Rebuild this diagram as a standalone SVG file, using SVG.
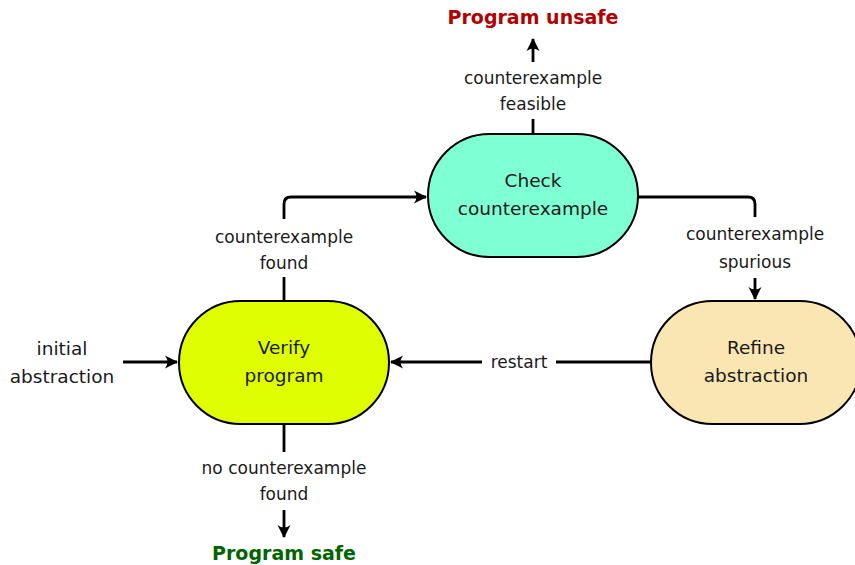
<svg xmlns="http://www.w3.org/2000/svg" width="855" height="565" viewBox="0 0 855 565">
  <defs>
    <marker id="arr" viewBox="-13 -7 15 14" refX="0" refY="0" markerWidth="15" markerHeight="14" markerUnits="userSpaceOnUse" orient="auto">
      <path d="M1,0 L-12,-6.5 Q-7,0 -12,6.5 Z" fill="#000"/>
    </marker>
  </defs>
  <style>
    .node { stroke: #000; stroke-width: 2; }
    .edge { fill: none; stroke: #000; stroke-width: 2.8; }
    .lbl { font-family: "DejaVu Sans", "Open Sans", sans-serif; font-size: 17px; fill: #1a1a1a; text-anchor: middle; }
    .ntxt { font-family: "DejaVu Sans", "Open Sans", sans-serif; font-size: 18.5px; fill: #1a1a1a; text-anchor: middle; }
    .out { font-family: "DejaVu Sans", "Open Sans", sans-serif; font-size: 19px; font-weight: bold; text-anchor: middle; }
  </style>

  <!-- connectors -->
  <g id="edges">
    <!-- verify -> check -->
    <path class="edge" d="M284,301 L284,277"/>
    <path class="edge" d="M284,219 L284,204 Q284,197 291,197 L426,197" marker-end="url(#arr)"/>
    <!-- check -> refine -->
    <path class="edge" d="M638,197 L748,197 Q755,197 755,204 L755,217"/>
    <path class="edge" d="M755,278 L755,299" marker-end="url(#arr)"/>
    <!-- check -> unsafe -->
    <path class="edge" d="M533,134 L533,119"/>
    <path class="edge" d="M533,62 L533,39" marker-end="url(#arr)"/>
    <!-- verify -> safe -->
    <path class="edge" d="M284,424 L284,452"/>
    <path class="edge" d="M284,510 L284,537" marker-end="url(#arr)"/>
    <!-- refine -> verify -->
    <path class="edge" d="M651,362 L556,362"/>
    <path class="edge" d="M482,362 L391,362" marker-end="url(#arr)"/>
    <!-- initial -->
    <path class="edge" d="M123,362 L177,362" marker-end="url(#arr)"/>
  </g>

  <!-- edge labels -->
  <g id="labels">
    <text class="lbl" x="284" y="243">counterexample</text>
    <text class="lbl" x="284" y="269">found</text>
    <text class="lbl" x="755" y="240">counterexample</text>
    <text class="lbl" x="755" y="268">spurious</text>
    <text class="lbl" x="533" y="84">counterexample</text>
    <text class="lbl" x="533" y="110">feasible</text>
    <text class="lbl" x="284" y="474">no counterexample</text>
    <text class="lbl" x="284" y="500">found</text>
    <text class="lbl" x="519" y="368">restart</text>
  </g>

  <g id="initial">
    <text class="ntxt" x="62" y="355">initial</text>
    <text class="ntxt" x="62" y="383">abstraction</text>
  </g>

  <g id="check">
    <rect class="node" x="428" y="134" width="210" height="123" rx="61.5" fill="#7fffd4"/>
    <text class="ntxt" x="533" y="187">Check</text>
    <text class="ntxt" x="533" y="215">counterexample</text>
  </g>

  <g id="verify">
    <rect class="node" x="179" y="301" width="210" height="123" rx="61.5" fill="#dfff00"/>
    <text class="ntxt" x="284" y="354">Verify</text>
    <text class="ntxt" x="284" y="382">program</text>
  </g>

  <g id="refine">
    <rect class="node" x="651" y="301" width="210" height="123" rx="61.5" fill="#f9e6b3"/>
    <text class="ntxt" x="756" y="354">Refine</text>
    <text class="ntxt" x="756" y="382">abstraction</text>
  </g>

  <g id="unsafe">
    <text class="out" x="533" y="24" fill="#b30000">Program unsafe</text>
  </g>

  <g id="safe">
    <text class="out" x="284" y="560" fill="#006400">Program safe</text>
  </g>
</svg>
